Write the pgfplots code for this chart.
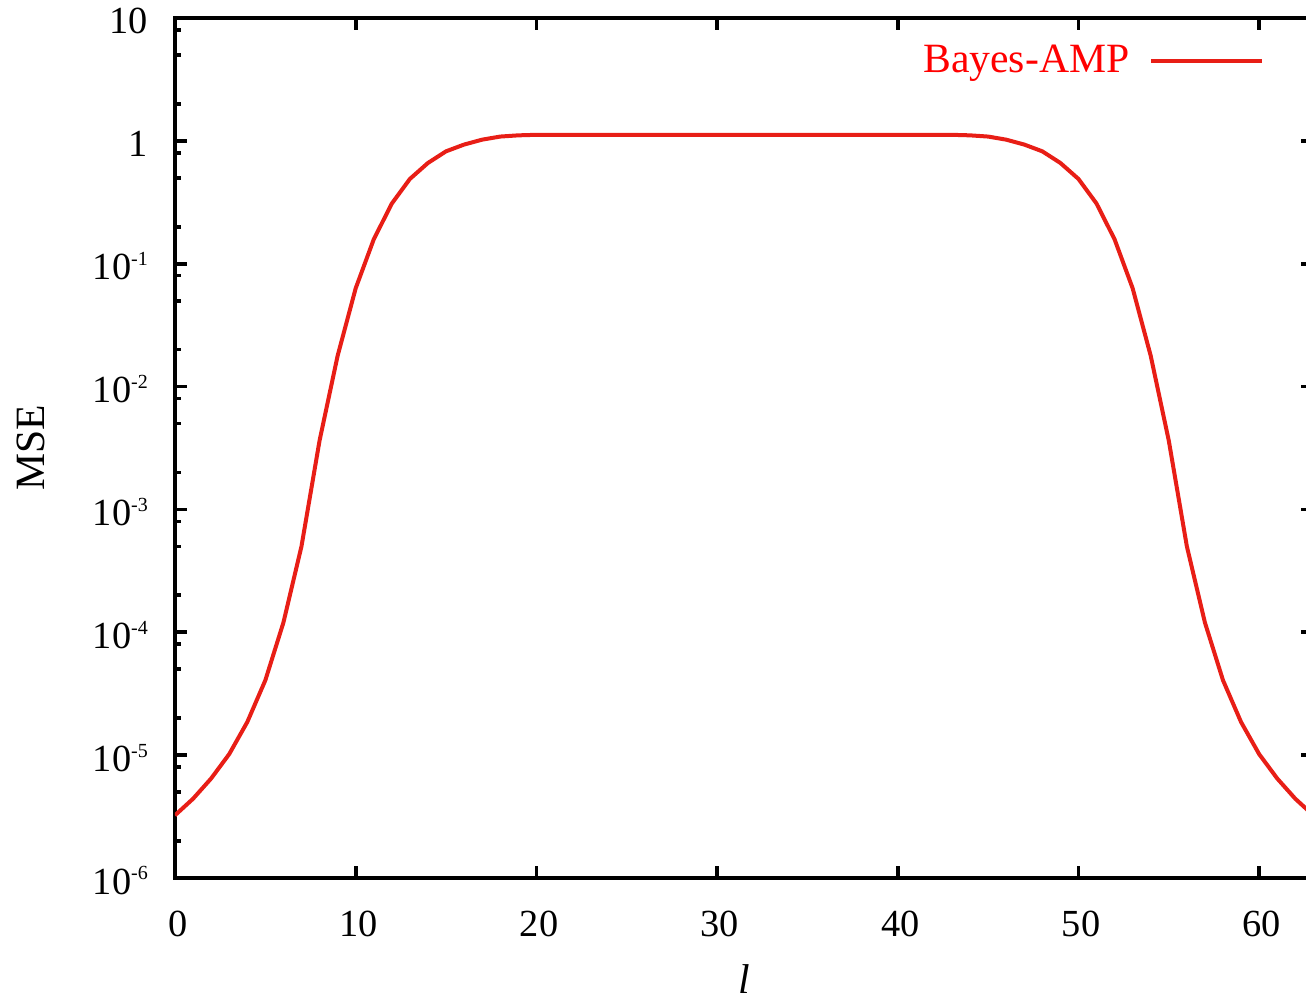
\documentclass[border=0pt]{standalone}
\usepackage{fontspec}
\setmainfont{Liberation Serif}
\usepackage{pgfplots}
\pgfplotsset{compat=1.18}
\usetikzlibrary{calc}

\definecolor{ampred}{RGB}{232,30,22}
\newcommand{\fnt}{\fontsize{11.5}{13}\selectfont}
\newcommand{\lfnt}{\fontsize{12.5}{14}\selectfont}
% gnuplot-like power labels: small exponent, raised
\newcommand{\ex}[1]{10\raisebox{4.3pt}{\fontsize{6}{6}\selectfont #1}}

\pgfplotstableread{
l mse
0 3.24e-6
1 4.42e-6
2 6.46e-6
3 1.02e-5
4 1.86e-5
5 4.07e-5
6 1.20e-4
7 5.01e-4
8 3.63e-3
9 1.78e-2
10 6.31e-2
11 0.158
12 0.309
13 0.490
14 0.661
15 0.822
16 0.933
17 1.023
18 1.084
19 1.109
20 1.12
21 1.12
22 1.12
23 1.12
24 1.12
25 1.12
26 1.12
27 1.12
28 1.12
29 1.12
30 1.12
31 1.12
32 1.12
33 1.12
34 1.12
35 1.12
36 1.12
37 1.12
38 1.12
39 1.12
40 1.12
41 1.12
42 1.12
43 1.12
44 1.109
45 1.084
46 1.023
47 0.933
48 0.822
49 0.661
50 0.490
51 0.309
52 0.158
53 6.31e-2
54 1.78e-2
55 3.63e-3
56 5.01e-4
57 1.20e-4
58 4.07e-5
59 1.86e-5
60 1.02e-5
61 6.46e-6
62 4.42e-6
63 3.24e-6
}\msedata

\begin{document}
\begin{tikzpicture}
\begin{semilogyaxis}[
  scale only axis,
  width=341.5pt, height=258pt,
  xmin=0, xmax=63,
  ymin=1e-6, ymax=10,
  xtick={0,10,...,60},
  ytick={1e-6,1e-5,1e-4,1e-3,1e-2,1e-1,1,10},
  yticklabels={\ex{-6},\ex{-5},\ex{-4},\ex{-3},\ex{-2},\ex{-1},1,10},
  minor ytick={2e-6,5e-6,8e-6,2e-5,5e-5,8e-5,2e-4,5e-4,8e-4,2e-3,5e-3,8e-3,
               2e-2,5e-2,8e-2,2e-1,5e-1,8e-1,2,5,8},
  /pgf/number format/assume math mode=true,
  axis line style={line width=1.1pt},
  tick style={line width=1.1pt, black},
  major tick length=3.6pt, minor tick length=1.8pt,
  tick align=inside,
  tick label style={font=\fnt},
  xticklabel style={yshift=-6.4pt, xshift=0.8pt},
  yticklabel style={xshift=-4.6pt, yshift=-0.8pt},
  xlabel={\textit{l}},
  ylabel={MSE},
  every axis x label/.style={at={(axis description cs:0.5,0)}, anchor=center, yshift=-30.2pt, font=\lfnt},
  every axis y label/.style={at={(axis description cs:0,0.5)}, xshift=-43.2pt, rotate=90, anchor=center, font=\lfnt},
  legend plot pos=right,
  legend image code/.code={\draw[#1] (0pt,0pt) -- (33.3pt,0pt);},
  legend style={draw=none, fill=none, font=\lfnt, text=red,
    at={(axis description cs:1,1)}, anchor=east,
    xshift=-14.8pt, yshift=-13pt,
    inner sep=0pt, outer sep=0pt, /tikz/column sep=3.9pt},
]
\addplot[ampred, line width=1.2pt] table[x=l, y=mse] {\msedata};
\addlegendentry{Bayes-AMP}
\end{semilogyaxis}
\pgfresetboundingbox
\path ($(current axis.south west)+(-52.5pt,-36.3pt)$) rectangle ($(current axis.north east)+(-2.2pt,5.4pt)$);
\end{tikzpicture}
\end{document}
